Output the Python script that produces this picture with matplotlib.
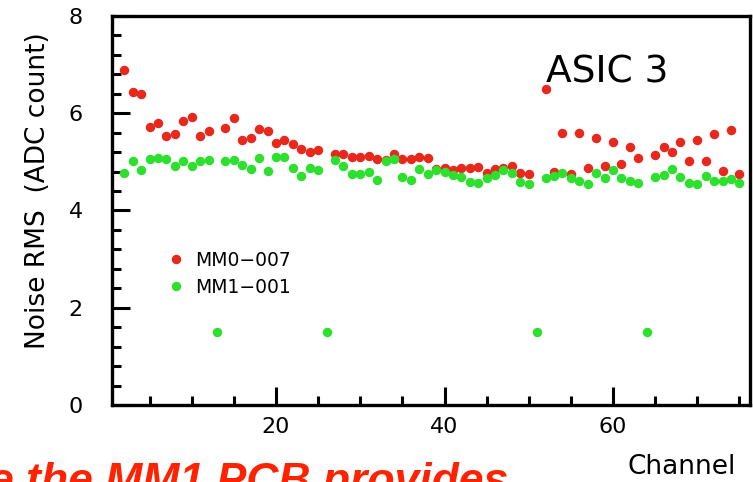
import numpy as np
import matplotlib
matplotlib.use("Agg")
import matplotlib.pyplot as plt
from matplotlib.ticker import MultipleLocator

# Datos (canal 2 a 75)
channels = list(range(2, 76))

# MM0-007 (rojo), NaN donde no se ve el punto
mm0_007 = [6.89, 6.43, 6.40, 5.71, 5.80, 5.53, 5.58, 5.84, 5.93, 5.53,
           5.63, np.nan, 5.70, 5.90, 5.45, 5.49, 5.67, 5.63, 5.38, 5.45,
           5.36, 5.27, 5.21, 5.25, np.nan, 5.17, 5.17, 5.11, 5.09, 5.13,
           5.06, 5.03, 5.16, 5.05, 5.05, 5.10, 5.07, 4.86, 4.87, 4.84,
           4.87, 4.87, 4.89, 4.78, 4.85, 4.87, 4.92, 4.77, 4.75, np.nan,
           6.50, 4.79, 5.59, 4.75, 5.59, 4.87, 5.50, 4.92, 5.41, 4.96,
           5.30, 5.08, np.nan, 5.14, 5.30, 5.21, 5.40, 5.02, 5.46, 5.02,
           5.57, 4.82, 5.66, 4.75]

# MM1-001 (verde)
mm1_001 = [4.77, 5.02, 4.83, 5.05, 5.07, 5.05, 4.92, 5.01, 4.92, 5.01,
           5.03, 1.51, 5.02, 5.04, 4.94, 4.86, 5.07, 4.81, 5.10, 5.11,
           4.88, 4.70, 4.88, 4.83, 1.51, 5.04, 4.92, 4.75, 4.76, 4.79,
           4.62, 5.01, 5.05, 4.68, 4.62, 4.85, 4.76, 4.84, 4.80, 4.72,
           4.68, 4.58, 4.56, 4.66, 4.73, 4.83, 4.77, 4.58, 4.55, 1.51,
           4.66, 4.71, 4.78, 4.67, 4.60, 4.55, 4.77, 4.66, 4.84, 4.66,
           4.60, 4.56, 1.51, 4.68, 4.72, 4.86, 4.68, 4.57, 4.55, 4.70,
           4.61, 4.61, 4.65, 4.56]

red = "#e8281c"
green = "#2ee02e"

fig = plt.figure(figsize=(7.53, 4.82), dpi=100)
ax = fig.add_axes([0.1487, 0.1598, 0.8473, 0.807])

ax.plot(channels, mm0_007, "o", color=red, markersize=5.8, label="MM0\u2212007")
ax.plot(channels, mm1_001, "o", color=green, markersize=5.8, label="MM1\u2212001")

ax.set_xlim(0.53, 76.26)
ax.set_ylim(0, 8)

# ejes estilo ROOT
for s in ax.spines.values():
    s.set_linewidth(2.4)
ax.xaxis.set_major_locator(MultipleLocator(20))
ax.xaxis.set_minor_locator(MultipleLocator(5))
ax.yaxis.set_major_locator(MultipleLocator(2))
ax.yaxis.set_minor_locator(MultipleLocator(0.4))
ax.tick_params(which="both", direction="in", width=2.2, top=False, right=False)
ax.tick_params(which="major", length=13)
ax.tick_params(which="minor", length=6.5)
ax.tick_params(axis="y", which="major", labelsize=16, pad=21)
ax.tick_params(axis="x", which="major", labelsize=16, pad=9)

fig.text(0.05, 0.605, "Noise RMS  (ADC count)", rotation=90, fontsize=19,
         ha="center", va="center")
fig.text(0.905, 0.032, "Channel", fontsize=19, ha="center", va="center")
ax.text(0.68, 0.855, "ASIC 3", transform=ax.transAxes, fontsize=27,
        ha="left", va="center")

ax.legend(loc="center left", bbox_to_anchor=(0.0886, 0.337), frameon=False,
          fontsize=13.5, handlelength=0.8, handletextpad=0.6,
          labelspacing=0.44, borderaxespad=0, borderpad=0)

# texto rojo cortado abajo (como en el original)
fig.text(-0.014, 0.042, "e the MM1 PCB provides", fontsize=32, color="#ff2200",
         family="Liberation Sans", weight="bold", style="italic",
         ha="left", va="top")

fig.savefig("out.png", dpi=100)
